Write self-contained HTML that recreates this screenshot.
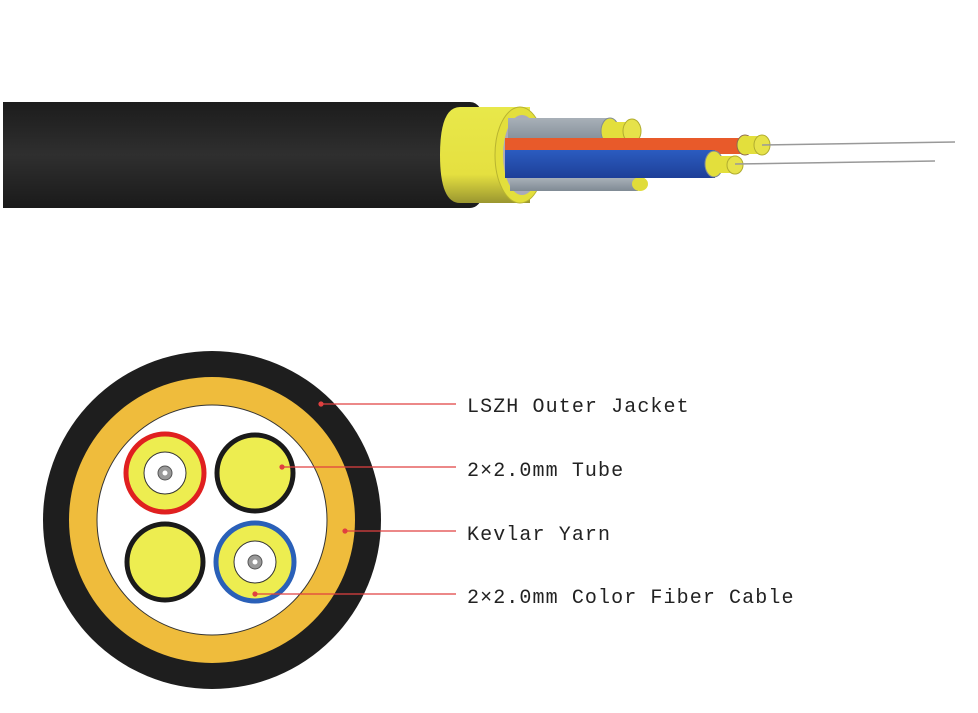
<!DOCTYPE html>
<html><head><meta charset="utf-8"><style>
body{margin:0;background:#fff;width:978px;height:713px;overflow:hidden}
svg{display:block}
text{font-family:"Liberation Mono","DejaVu Sans Mono",monospace;font-size:20px;fill:#222;letter-spacing:1.1px}
</style></head><body>
<svg width="978" height="713" viewBox="0 0 978 713">
<defs>
<linearGradient id="blk" x1="0" y1="0" x2="0" y2="1"><stop offset="0" stop-color="#1c1c1c"/><stop offset=".5" stop-color="#2f2f2f"/><stop offset="1" stop-color="#1a1a1a"/></linearGradient>
<linearGradient id="yel" x1="0" y1="0" x2="0" y2="1"><stop offset="0" stop-color="#e8e84a"/><stop offset=".7" stop-color="#e5e040"/><stop offset="1" stop-color="#9a9630"/></linearGradient>
<linearGradient id="gry" x1="0" y1="0" x2="0" y2="1"><stop offset="0" stop-color="#a8b0b8"/><stop offset="1" stop-color="#7f8a94"/></linearGradient>
<linearGradient id="blu" x1="0" y1="0" x2="0" y2="1"><stop offset="0" stop-color="#2b5cc0"/><stop offset="1" stop-color="#1e3f98"/></linearGradient>
</defs>
<path d="M3 102 L470 102 Q488 102 488 155 Q488 208 470 208 L3 208 Z" fill="url(#blk)"/>
<path d="M460 107 L530 107 L530 203 L460 203 Q440 203 440 155 Q440 107 460 107Z" fill="url(#yel)"/>
<ellipse cx="520" cy="155" rx="25" ry="48" fill="#e3df3c" stroke="#b8b430"/>
<ellipse cx="522" cy="155" rx="19" ry="40" fill="#aab" />
<rect x="510" y="178" width="128" height="13" fill="url(#gry)"/>
<ellipse cx="640" cy="184" rx="8" ry="7" fill="#e0dc3a"/>
<rect x="508" y="118" width="100" height="26" fill="url(#gry)"/>
<ellipse cx="610" cy="131" rx="9" ry="13" fill="#e3df3c" stroke="#7f8a94"/>
<rect x="610" y="122" width="20" height="18" fill="#e3df3c"/>
<ellipse cx="632" cy="131" rx="9" ry="12" fill="#e6e24a" stroke="#b0ac30"/>
<rect x="505" y="138" width="240" height="16" fill="#e85a2a"/>
<ellipse cx="745" cy="145" rx="8" ry="10" fill="#e3df3c" stroke="#8f6a50"/>
<rect x="745" y="136" width="16" height="18" fill="#e3df3c"/>
<ellipse cx="762" cy="145" rx="8" ry="10" fill="#e6e24a" stroke="#b0ac30"/>
<line x1="762" y1="145" x2="955" y2="142" stroke="#999" stroke-width="1.5"/>
<rect x="505" y="150" width="210" height="28" fill="url(#blu)"/>
<ellipse cx="714" cy="164" rx="9" ry="13" fill="#e3df3c" stroke="#7f8a94"/>
<rect x="714" y="156" width="20" height="17" fill="#e3df3c"/>
<ellipse cx="735" cy="165" rx="8" ry="9" fill="#e6e24a" stroke="#b0ac30"/>
<line x1="735" y1="164" x2="935" y2="161" stroke="#999" stroke-width="1.5"/>
<circle cx="212" cy="520" r="169" fill="#1e1e1e"/>
<circle cx="212" cy="520" r="143" fill="#efbc3c"/>
<circle cx="212" cy="520" r="115" fill="#fff" stroke="#333" stroke-width="1"/>
<circle cx="165" cy="473" r="39" fill="#eded50" stroke="#e02020" stroke-width="5"/>
<circle cx="165" cy="473" r="21" fill="#fff" stroke="#333"/>
<circle cx="165" cy="473" r="7" fill="#999" stroke="#555"/><circle cx="165" cy="473" r="2.5" fill="#fff"/>
<circle cx="255" cy="473" r="38" fill="#eded50" stroke="#1a1a1a" stroke-width="5"/>
<circle cx="165" cy="562" r="38" fill="#eded50" stroke="#1a1a1a" stroke-width="5"/>
<circle cx="255" cy="562" r="39" fill="#eded50" stroke="#2a60b8" stroke-width="5"/>
<circle cx="255" cy="562" r="21" fill="#fff" stroke="#333"/>
<circle cx="255" cy="562" r="7" fill="#999" stroke="#555"/><circle cx="255" cy="562" r="2.5" fill="#fff"/>
<g stroke="#e04040" stroke-width="1.2" fill="#e04040">
<line x1="321" y1="404" x2="456" y2="404"/><circle cx="321" cy="404" r="2"/>
<line x1="282" y1="467" x2="456" y2="467"/><circle cx="282" cy="467" r="2"/>
<line x1="345" y1="531" x2="456" y2="531"/><circle cx="345" cy="531" r="2"/>
<line x1="255" y1="594" x2="456" y2="594"/><circle cx="255" cy="594" r="2"/>
</g>
<text x="467" y="412">LSZH Outer Jacket</text>
<text x="467" y="476">2×2.0mm Tube</text>
<text x="467" y="540">Kevlar Yarn</text>
<text x="467" y="603">2×2.0mm Color Fiber Cable</text>
</svg>
</body></html>
